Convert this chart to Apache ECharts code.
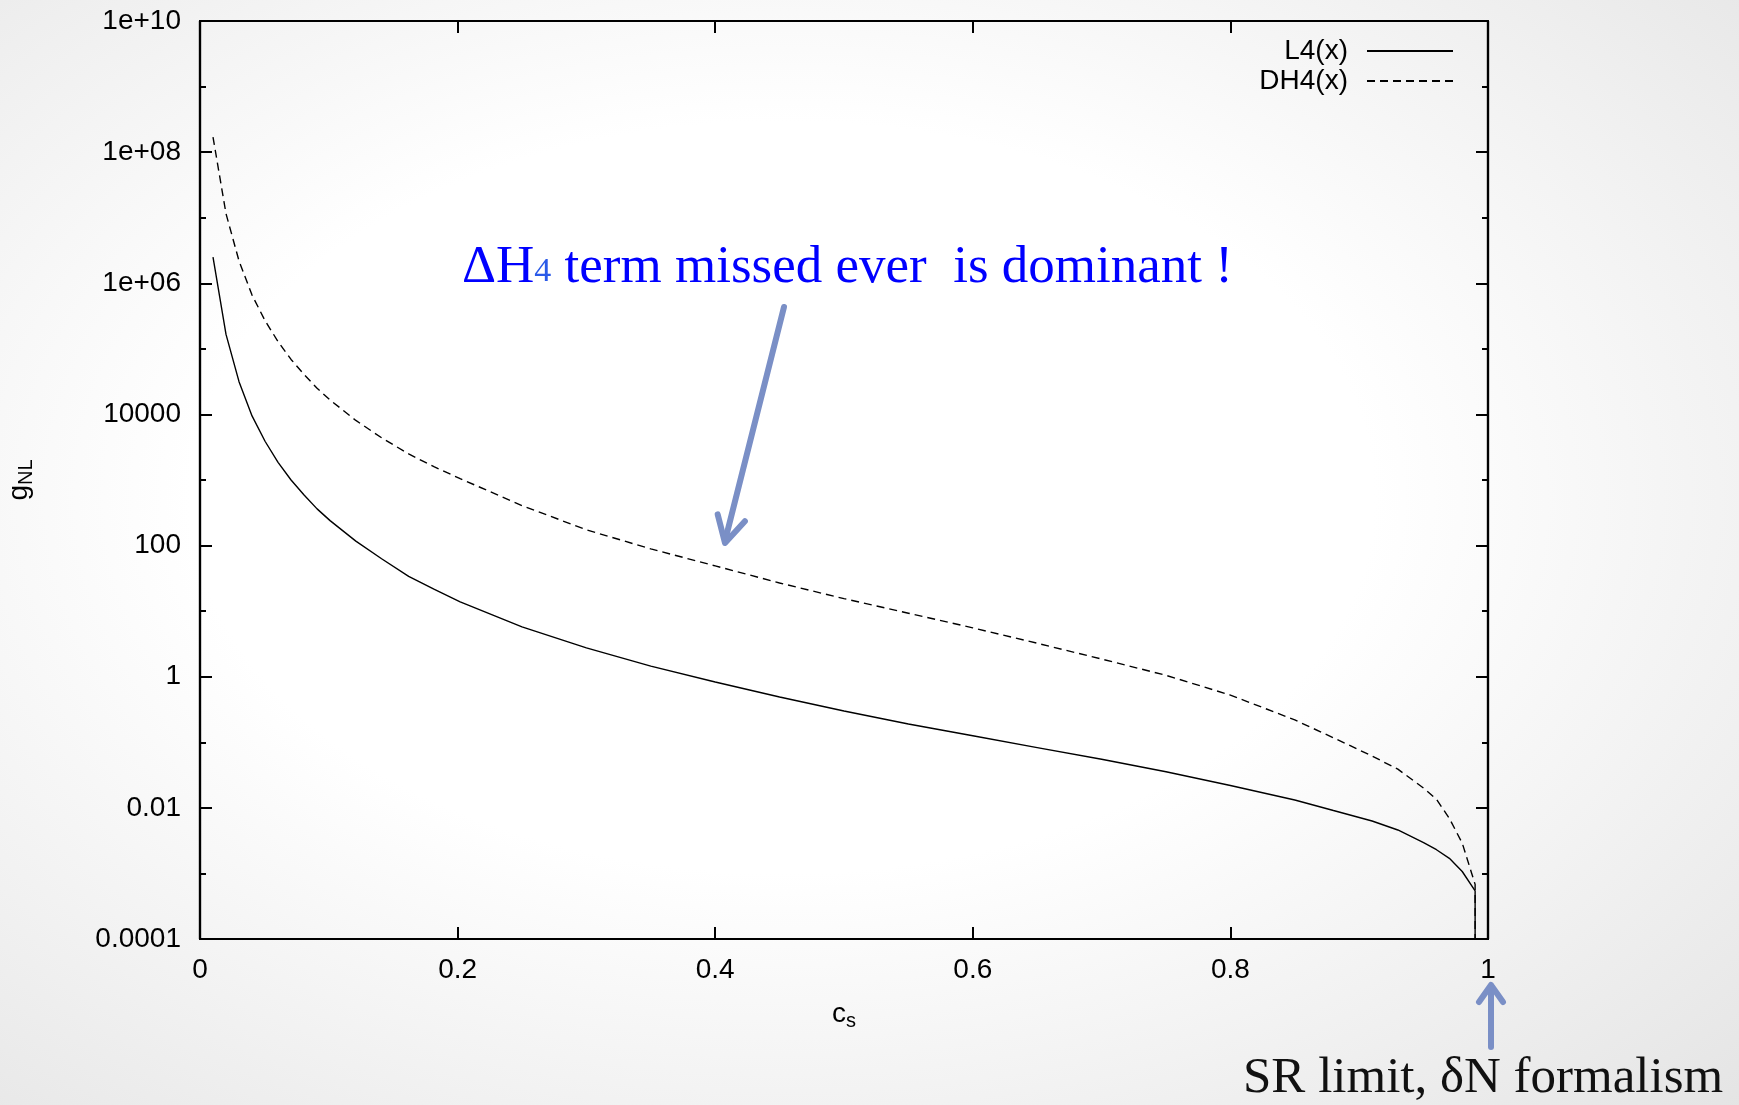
<!DOCTYPE html>
<html>
<head>
<meta charset="utf-8">
<script src="https://cdn.jsdelivr.net/npm/echarts@6/dist/echarts.min.js"></script>
<style>
html, body { margin: 0; padding: 0; }
body { width: 1739px; height: 1105px; background: radial-gradient(ellipse 85% 85% at 45% 45%, #ffffff 40%, #e0e0e0 100%); }
#container { width: 1739px; height: 1105px; }
</style>
</head>
<body>
<div id="container"></div>
<script>
// c_s samples (the last one repeats: the curves drop straight down to the axis there)
var cs = [0.0101, 0.0202, 0.0303, 0.0404, 0.0505, 0.0606, 0.0707, 0.0808, 0.0909, 0.101,
          0.121, 0.141, 0.162, 0.182, 0.202, 0.25, 0.30, 0.35, 0.40, 0.45,
          0.50, 0.55, 0.60, 0.65, 0.70, 0.75, 0.80, 0.85, 0.88, 0.91,
          0.93, 0.95, 0.96, 0.97, 0.98, 0.99, 0.99];
var l4 = [2.5e6, 1.66e5, 3.16e4, 9.5e3, 3.9e3, 1.86e3, 1000, 589, 363, 240,
          117, 63, 33.9, 21.4, 13.8, 5.75, 2.75, 1.45, 0.83, 0.49,
          0.30, 0.19, 0.126, 0.083, 0.055, 0.0355, 0.0219, 0.0132, 0.0091, 0.0063,
          0.0046, 0.00295, 0.0023, 0.0017, 0.00107, 0.00054, 0.0001];
var dh4 = [1.7e8, 1.15e7, 2.19e6, 6.6e5, 2.69e5, 1.29e5, 6.9e4, 4.07e4, 2.51e4, 1.66e4,
           8.1e3, 4.4e3, 2.5e3, 1.58e3, 1.05e3, 407, 174, 89, 49, 26.9,
           15.5, 9.3, 5.56, 3.24, 1.86, 1.05, 0.525, 0.219, 0.117, 0.0617,
           0.0389, 0.020, 0.0135, 0.0069, 0.0029, 0.00068, 0.0001];

var yTickValues = [1e-4, 1e-2, 1, 1e2, 1e4, 1e6, 1e8, 1e10];
var yTickLabels = ['0.0001', '0.01', '1', '100', '10000', '1e+06', '1e+08', '1e+10'];
var yMinorValues = [1e-3, 1e-1, 1e1, 1e3, 1e5, 1e7, 1e9];

var dom = document.getElementById("container");
var myChart = echarts.init(dom);

var font = 'Liberation Sans, Arial, Helvetica, sans-serif';
var serif = 'Liberation Serif, Times New Roman, serif';
var axisLine = { show: true, onZero: false, lineStyle: { color: '#000', width: 2.2 } };

function yLabel(v) {
    var best = 0, d = Infinity;
    for (var i = 0; i < yTickValues.length; i++) {
        var e = Math.abs(Math.log10(v) - Math.log10(yTickValues[i]));
        if (e < d) { d = e; best = i; }
    }
    return yTickLabels[best];
}

function logAxis(pos, ticks, len, labels) {
    return {
        type: 'log', logBase: 10, min: 1e-4, max: 1e10,
        position: pos, offset: 0,
        axisLine: axisLine,
        splitLine: { show: false },
        axisTick: { show: true, inside: true, length: len, customValues: ticks,
                    lineStyle: { color: '#000', width: 2 } },
        axisLabel: labels ? {
            show: true, customValues: ticks, margin: 19,
            fontSize: 28, fontFamily: font, color: '#000',
            formatter: yLabel
        } : { show: false }
    };
}

var subRich = { sub: { fontSize: 20, fontFamily: font, color: '#000', verticalAlign: 'bottom', lineHeight: 26 } };

var leftMajor = logAxis('left', yTickValues, 12, true);
leftMajor.name = 'g{sub|NL}';
leftMajor.nameLocation = 'middle';
leftMajor.nameGap = 164;
leftMajor.nameRotate = 90;
leftMajor.nameTextStyle = { fontSize: 28, fontFamily: font, color: '#000', lineHeight: 34, rich: subRich };

option = {
    backgroundColor: 'transparent',
    animation: false,
    grid: { left: 200, top: 21, width: 1288, height: 918, containLabel: false, outerBoundsMode: 'none' },
    legend: {
        orient: 'vertical', right: 280, top: 31, align: 'right',
        itemWidth: 86, itemHeight: 14, itemGap: 0,
        itemStyle: { opacity: 0 },
        textStyle: { fontSize: 28, fontFamily: font, color: '#000', lineHeight: 30, padding: [0, 14, 0, 0] },
        data: ['L4(x)', 'DH4(x)']
    },
    xAxis: [
        {
            type: 'value', min: 0, max: 1, interval: 0.2, position: 'bottom',
            axisLine: axisLine, splitLine: { show: false },
            axisTick: { inside: true, length: 12, lineStyle: { color: '#000', width: 2 } },
            axisLabel: { margin: 17, fontSize: 28, fontFamily: font, color: '#000' },
            name: 'c{sub|s}', nameLocation: 'middle', nameGap: 58,
            nameTextStyle: { fontSize: 28, fontFamily: font, color: '#000', lineHeight: 34, rich: subRich }
        },
        {
            type: 'value', min: 0, max: 1, interval: 0.2, position: 'top',
            axisLine: axisLine, splitLine: { show: false },
            axisTick: { inside: true, length: 12, lineStyle: { color: '#000', width: 2 } },
            axisLabel: { show: false }
        }
    ],
    yAxis: [
        leftMajor,
        logAxis('left', yMinorValues, 6, false),
        logAxis('right', yTickValues, 12, false),
        logAxis('right', yMinorValues, 6, false)
    ],
    series: [
        {
            name: 'L4(x)', type: 'line', xAxisIndex: 0, yAxisIndex: 0,
            symbol: 'none', showSymbol: false, clip: true,
            lineStyle: { color: '#000', width: 1.4, type: 'solid' },
            itemStyle: { color: '#000' },
            data: cs.map(function (x, i) { return [x, l4[i]]; })
        },
        {
            name: 'DH4(x)', type: 'line', xAxisIndex: 0, yAxisIndex: 0,
            symbol: 'none', showSymbol: false, clip: true,
            lineStyle: { color: '#000', width: 1.4, type: [8, 5] },
            itemStyle: { color: '#000' },
            data: cs.map(function (x, i) { return [x, dh4[i]]; })
        }
    ],
    graphic: [
        {
            type: 'text', left: 462, top: 242,
            style: {
                text: '{a|ΔH}{b|4}{a| term missed ever  is dominant !}',
                rich: {
                    a: { fontSize: 53, lineHeight: 53, fontFamily: serif, fill: '#0000ff' },
                    b: { fontSize: 34, lineHeight: 34, fontFamily: serif, fill: '#2a5ae8',
                         verticalAlign: 'bottom', padding: [0, 0, 6, 0] }
                }
            }
        },
        {
            type: 'polyline',
            shape: { points: [[784, 307], [725, 541]] },
            style: { stroke: '#7a8fc6', lineWidth: 6, lineCap: 'round', fill: null }
        },
        {
            type: 'polyline',
            shape: { points: [[717.7, 514.4], [725, 543], [744.9, 521.2]] },
            style: { stroke: '#7a8fc6', lineWidth: 6, lineCap: 'round', lineJoin: 'round', fill: null }
        },
        {
            type: 'polyline',
            shape: { points: [[1491, 1047], [1491, 987]] },
            style: { stroke: '#7a8fc6', lineWidth: 6, lineCap: 'round', fill: null }
        },
        {
            type: 'polyline',
            shape: { points: [[1479, 1002], [1491, 985], [1503, 1002]] },
            style: { stroke: '#7a8fc6', lineWidth: 6, lineCap: 'round', lineJoin: 'round', fill: null }
        },
        {
            type: 'text', left: 1243, top: 1053,
            style: { text: 'SR limit, δN formalism', fontSize: 51, lineHeight: 51, fontFamily: serif, fill: '#111' }
        }
    ]
};
myChart.setOption(option, true);
</script>
</body>
</html>
